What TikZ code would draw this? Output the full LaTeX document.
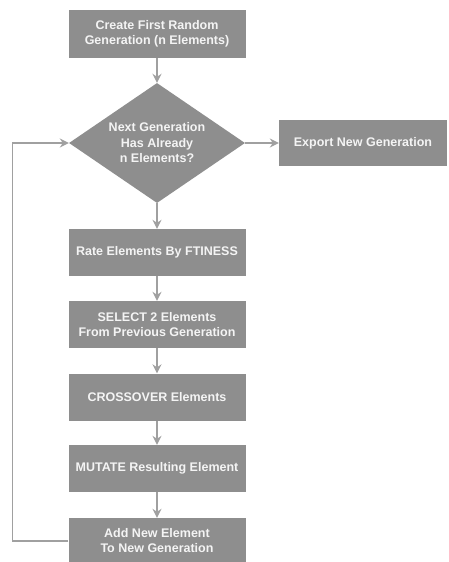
\documentclass[tikz,border=0pt]{standalone}
\usepackage{fontspec}
\setmainfont{Liberation Sans}
\usetikzlibrary{shapes.geometric,arrows.meta}
\definecolor{boxgray}{HTML}{8E8E8E}
\definecolor{linegray}{HTML}{A0A0A0}
\definecolor{txt}{HTML}{F4F4F4}
\begin{document}
\begin{tikzpicture}[x=1pt,y=-1pt,
  box/.style={rectangle,fill=boxgray,text=txt,font=\fontsize{12.5}{15.5}\selectfont\bfseries,align=center,inner sep=0pt,minimum width=177pt,minimum height=47pt},
  dec/.style={diamond,fill=boxgray,text=txt,font=\fontsize{12.5}{15.5}\selectfont\bfseries,align=center,inner sep=0pt,minimum width=176pt,minimum height=120pt,aspect=1.47},
  conn/.style={draw=linegray,line width=1.4pt,-{Stealth[length=9pt,width=9pt,inset=3pt]}}]
\useasboundingbox (0,0) rectangle (448,562);
\node[box,minimum height=48pt] (create) at (157,34) {Create First Random\\Generation (n Elements)};
\node[dec] (check) at (157,143) {Next Generation\\Has Already\\n Elements?};
\node[box,minimum width=168pt,minimum height=46pt] (export) at (363,143) {Export New Generation};
\node[box] (rate) at (157,252.5) {Rate Elements By FTINESS};
\node[box] (select) at (157,324.5) {SELECT 2 Elements\\From Previous Generation};
\node[box] (cross) at (157,397) {CROSSOVER Elements};
\node[box] (mutate) at (157,468.5) {MUTATE Resulting Element};
\node[box,minimum height=45pt] (add) at (157,540.5) {Add New Element\\To New Generation};
\coordinate (lb) at (12.5,541);
\coordinate (lt) at (12.5,143);
\draw[conn] (create) -- (check);
\draw[conn] (check) -- (export);
\draw[conn] (check) -- (rate);
\draw[conn] (rate) -- (select);
\draw[conn] (select) -- (cross);
\draw[conn] (cross) -- (mutate);
\draw[conn] (mutate) -- (add);
\draw[conn] (add.west |- lb) -- (lb) -- (lt) -- (check.west);
\end{tikzpicture}
\end{document}
